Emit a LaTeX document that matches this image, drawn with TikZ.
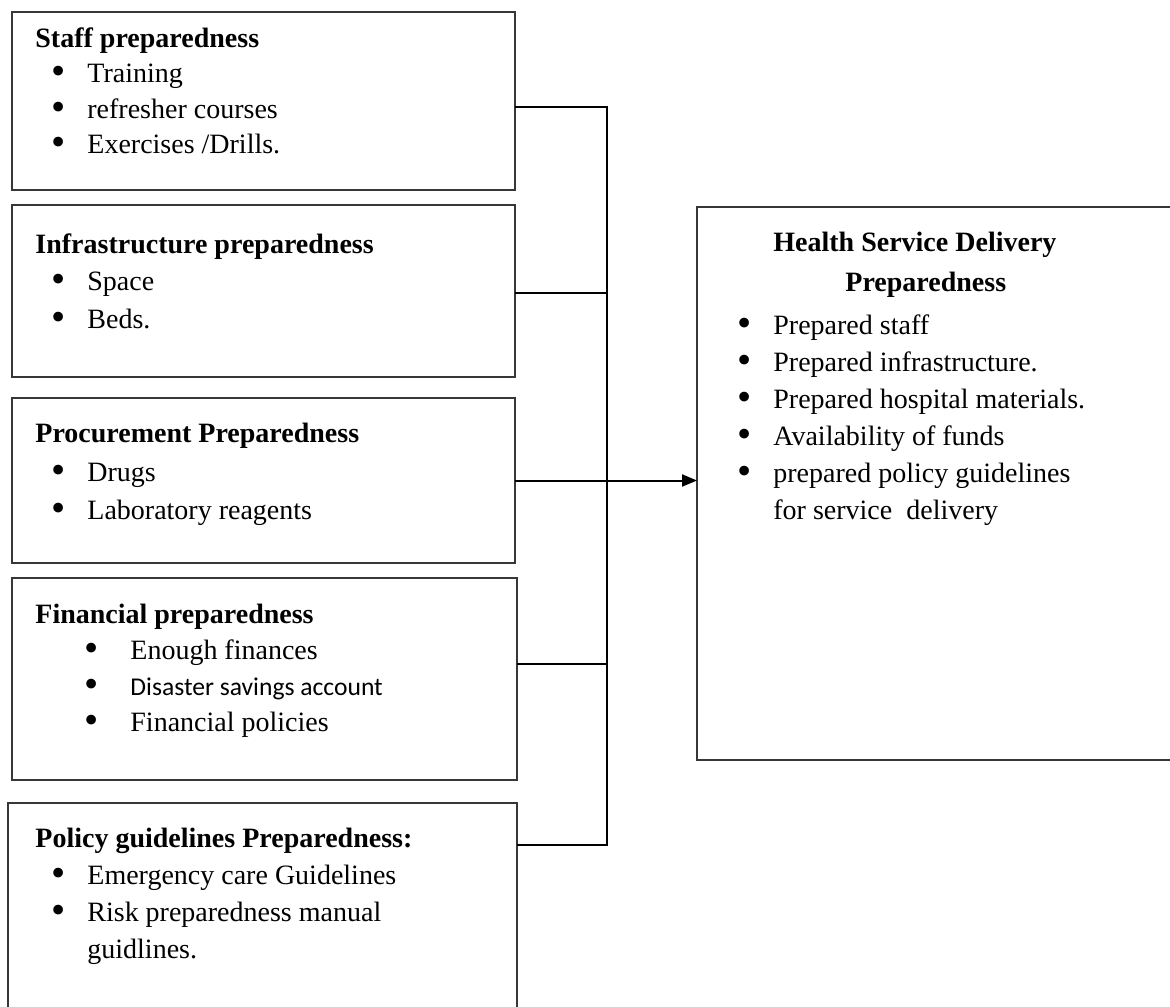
\documentclass[tikz,border=0pt]{standalone}
\usepackage{fontspec}
\setmainfont{Liberation Serif}
\newfontfamily\calibri{Carlito}
\usetikzlibrary{arrows.meta,positioning,calc}
\definecolor{boxline}{RGB}{55,55,55}
\newcommand\blt{\smash{\raisebox{-1pt}{\scalebox{1.45}{\textbullet}}}}
\newcommand\itm[3][8pt]{\hspace*{#1}\makebox[#2][l]{\blt}#3}
\tikzset{
  blk/.style={draw=boxline,line width=0.9pt,anchor=north west,
              inner sep=0pt,outer sep=0pt},
  txt/.style={align=left,inner sep=0pt,anchor=north west,
              font=\fontsize{14}{#1}\selectfont},
  txt/.default=18pt,
  conn/.style={line width=1pt,color=black},
  arr/.style={conn,-{Triangle[length=7.5pt,width=6pt]}},
}

\begin{document}
\begin{tikzpicture}[x=0.5pt,y=-0.5pt]
  \useasboundingbox (0,0) rectangle (1170,1006);
  \clip (0,0) rectangle (1170,1006);

  % left column boxes
  \node[blk,minimum width=251.5pt,minimum height=89pt](staff) at (12,12) {};
  \node[blk,minimum width=251.5pt,minimum height=86pt](infra) at (12,205) {};
  \node[blk,minimum width=251.5pt,minimum height=82.5pt](proc) at (12,398) {};
  \node[blk,minimum width=252.5pt,minimum height=101pt](fin) at (12,578) {};
  \node[blk,minimum width=254.5pt,minimum height=110pt](pol) at (8,803) {};
  % outcome box
  \node[blk,minimum width=246pt,minimum height=276.5pt](hsd) at (697,207) {};

  \node[txt=17.75pt](stafftxt) at (35,27)
    {\textbf{Staff preparedness}\\
     \itm{18pt}{Training}\\
     \itm{18pt}{refresher courses}\\
     \itm{18pt}{Exercises /Drills.}};
  \node[txt=18.75pt](infratxt) at (35,233)
    {\textbf{Infrastructure preparedness}\\
     \itm{18pt}{Space}\\
     \itm{18pt}{Beds.}};
  \node[txt=19.25pt](proctxt) at (35,423)
    {\textbf{Procurement Preparedness}\\
     \itm{18pt}{Drugs}\\
     \itm{18pt}{Laboratory reagents}};
  \node[txt=18pt](fintxt) at (35,604)
    {\textbf{Financial preparedness}\\
     \itm[24.5pt]{23pt}{Enough finances}\\
     \itm[24.5pt]{23pt}{{\calibri\fontsize{12.8}{18}\selectfont Disaster savings account}}\\
     \itm[24.5pt]{23pt}{Financial policies}};
  \node[txt=18.5pt](poltxt) at (35,828)
    {\textbf{Policy guidelines Preparedness:}\\
     \itm{18pt}{Emergency care Guidelines}\\
     \itm{18pt}{Risk preparedness manual}\\
     \hspace*{26pt}guidlines.};
  \node[txt=18.5pt](hsdtxt) at (737,232)
    {\hspace*{18pt}\textbf{Health Service Delivery}\\[1.5pt]
     \hspace*{54pt}\textbf{Preparedness}\\[3pt]
     \itm[0pt]{18pt}{Prepared staff}\\
     \itm[0pt]{18pt}{Prepared infrastructure.}\\
     \itm[0pt]{18pt}{Prepared hospital materials.}\\
     \itm[0pt]{18pt}{Availability of funds}\\
     \itm[0pt]{18pt}{prepared policy guidelines}\\
     \hspace*{18pt}for service\ \ delivery};

  % connectors
  \coordinate (bus) at (607,0);
  \coordinate (s1) at ([yshift=-3pt]staff.east);
  \coordinate (i1) at ([yshift=-1pt]infra.east);
  \coordinate (f1) at ([yshift=7.5pt]fin.east);
  \coordinate (p1) at ([yshift=-21pt]pol.north east);
  \draw[conn](s1) -- (s1 -| bus) -- (p1 -| bus) -- (p1);
  \draw[conn](i1) -- (i1 -| bus);
  \draw[conn](f1) -- (f1 -| bus);
  \draw[arr](proc.east) -- (proc.east -| hsd.west);
\end{tikzpicture}
\end{document}
